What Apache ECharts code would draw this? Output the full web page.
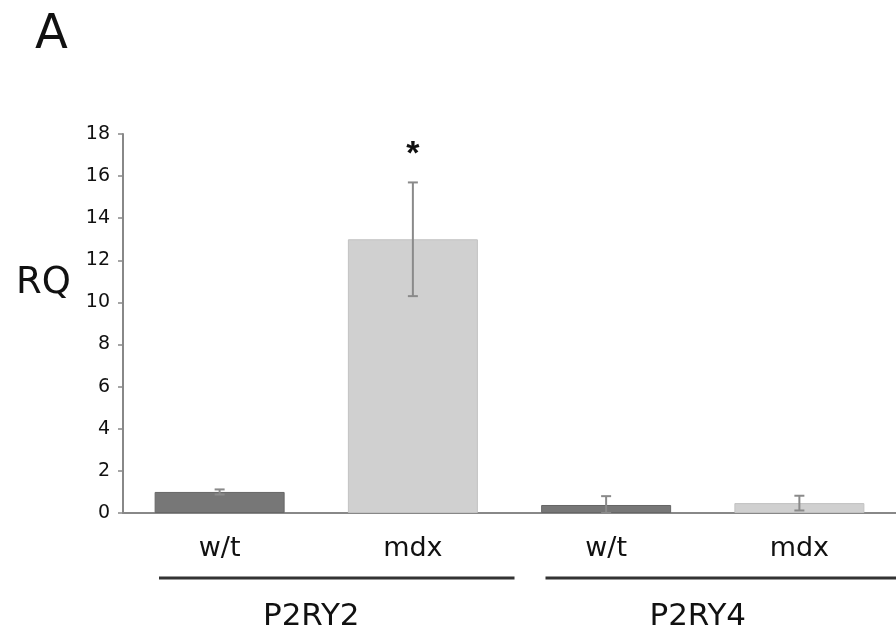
<!DOCTYPE html>
<html>
<head>
<meta charset="utf-8">
<script src="https://cdn.jsdelivr.net/npm/echarts@6/dist/echarts.min.js"></script>
<style>
  html, body { margin: 0; padding: 0; background: #fff; }
  #chart { width: 896px; height: 634px; }
</style>
</head>
<body>
<div id="chart"></div>
<script>
// bar categories (genotype) and the gene each belongs to
var genotypes = ['w/t', 'mdx', 'w/t', 'mdx'];
var genes = ['P2RY2', 'P2RY2', 'P2RY4', 'P2RY4'];
var rqValues = [1.0, 13.0, 0.38, 0.47];
var rqErrors = [0.12, 2.7, 0.42, 0.35];
var significant = [false, true, false, false];
var yTicks = [0, 2, 4, 6, 8, 10, 12, 14, 16, 18];
// gene groups: [first bar index, last bar index, name]
var geneGroups = [[0, 1, 'P2RY2'], [2, 3, 'P2RY4']];

var barColors = { 'w/t': '#777777', 'mdx': '#d0d0d0' };
var barBorders = { 'w/t': '#666666', 'mdx': '#c2c2c2' };
var font = '"DejaVu Sans", sans-serif';

var chart = echarts.init(document.getElementById('chart'));

var barData = rqValues.map(function (v, i) {
  return {
    value: v,
    itemStyle: { color: barColors[genotypes[i]], borderColor: barBorders[genotypes[i]], borderWidth: 1 }
  };
});

var errData = rqValues.map(function (v, i) {
  return [i, v, rqErrors[i], significant[i] ? 1 : 0];
});

var option = {
  animation: false,
  backgroundColor: '#fff',
  graphic: [
    { type: 'text', x: 35, y: 36, style: { text: 'A', font: '48px ' + font, fill: '#111', verticalAlign: 'middle' } },
    { type: 'text', x: 16, y: 283, style: { text: 'RQ', font: '37px ' + font, fill: '#111', verticalAlign: 'middle' } }
  ],
  grid: { left: 123, right: -3, top: 134, bottom: 121 },
  xAxis: {
    type: 'category',
    data: genotypes,
    axisLine: { lineStyle: { color: '#888', width: 2 } },
    axisTick: { show: false },
    axisLabel: { color: '#111', fontSize: 27, fontFamily: 'DejaVu Sans', margin: 22 }
  },
  yAxis: {
    type: 'value',
    min: yTicks[0],
    max: yTicks[yTicks.length - 1],
    interval: 2,
    splitLine: { show: false },
    axisLine: { show: true, lineStyle: { color: '#888', width: 2 } },
    axisTick: { show: true, length: 5, lineStyle: { color: '#888', width: 1.5 } },
    axisLabel: { color: '#111', fontSize: 19, fontFamily: 'DejaVu Sans', margin: 13 }
  },
  series: [
    {
      type: 'bar',
      data: barData,
      barWidth: 130
    },
    {
      type: 'custom',
      data: errData,
      z: 5,
      renderItem: function (params, api) {
        var x = api.value(0), v = api.value(1), e = api.value(2);
        var lo = Math.max(0, v - e), hi = v + e;
        var pHi = api.coord([x, hi]);
        var pLo = api.coord([x, lo]);
        var cap = 5;
        var style = { stroke: '#8a8a8a', lineWidth: 2 };
        var children = [
          { type: 'line', shape: { x1: pHi[0], y1: pHi[1], x2: pLo[0], y2: pLo[1] }, style: style },
          { type: 'line', shape: { x1: pHi[0] - cap, y1: pHi[1], x2: pHi[0] + cap, y2: pHi[1] }, style: style },
          { type: 'line', shape: { x1: pLo[0] - cap, y1: pLo[1], x2: pLo[0] + cap, y2: pLo[1] }, style: style }
        ];
        if (api.value(3)) {
          children.push({
            type: 'text',
            style: {
              text: '*', x: pHi[0], y: pHi[1] - 28,
              font: 'bold 34px Liberation Sans, Arial, sans-serif', fill: '#111',
              align: 'center', verticalAlign: 'middle'
            }
          });
        }
        return { type: 'group', children: children };
      }
    },
    {
      type: 'custom',
      data: geneGroups,
      clip: false,
      silent: true,
      renderItem: function (params, api) {
        var w = api.size([1, 0])[0];
        var a = api.coord([api.value(0), 0]);
        var b = api.coord([api.value(1), 0]);
        var x0 = a[0] - w / 2 + 36;
        var x1 = b[0] + w / 2 + 5;
        var y = a[1] + 65;
        return {
          type: 'group',
          children: [
            { type: 'line', shape: { x1: x0, y1: y, x2: x1, y2: y }, style: { stroke: '#333', lineWidth: 3 } },
            {
              type: 'text',
              style: {
                text: geneGroups[params.dataIndex][2],
                x: (a[0] + b[0]) / 2 - 5, y: y + 39,
                font: '31px ' + font, fill: '#111',
                align: 'center', verticalAlign: 'middle'
              }
            }
          ]
        };
      }
    }
  ]
};

chart.setOption(option);
</script>
</body>
</html>
